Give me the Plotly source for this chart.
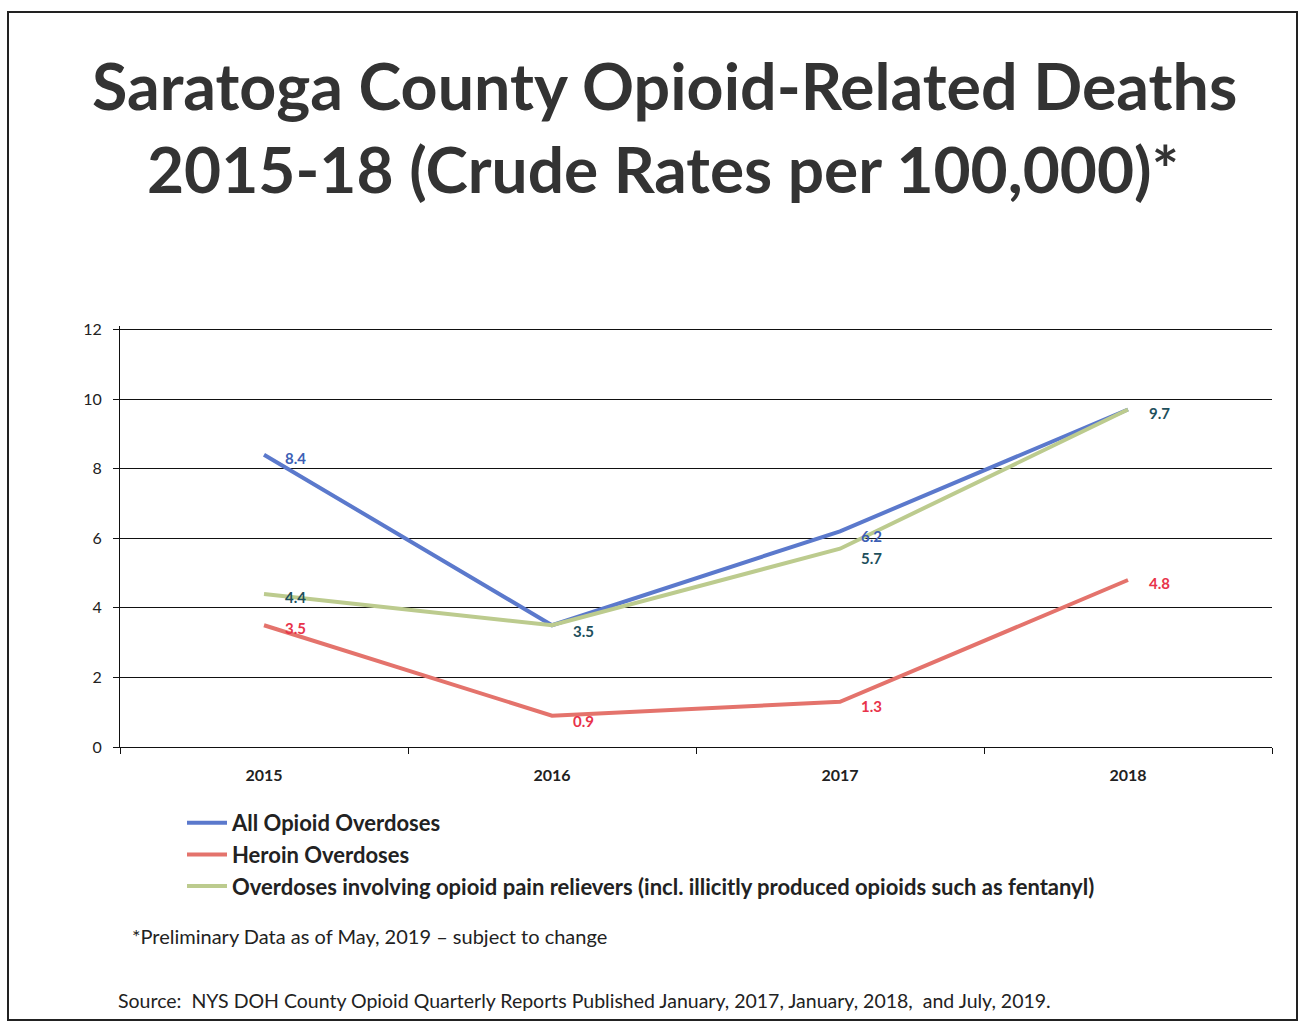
import plotly.graph_objects as go

years = ["2015", "2016", "2017", "2018"]
all_opioid = [8.4, 3.5, 6.2, 9.7]
heroin = [3.5, 0.9, 1.3, 4.8]
pain_relievers = [4.4, 3.5, 5.7, 9.7]

all_labels = ["8.4", "", "6.2", ""]
heroin_labels = ["3.5", "0.9", "1.3", "4.8"]
pain_labels = ["4.4", "3.5", "5.7", "9.7"]

y_ticks = [0, 2, 4, 6, 8, 10, 12]

names = ["All Opioid Overdoses", "Heroin Overdoses",
         "Overdoses involving opioid pain relievers (incl. illicitly produced opioids such as fentanyl)"]

FONT = "Lato"
W, H = 1300, 1023
L, R, T, B = 120, 28, 326, 276
PW, PH = W - L - R, H - T - B

def px(x):
    return (x - L) / PW

def py(y):
    return (H - B - y) / PH

series = [
    (all_opioid, all_labels, names[0], "#5b79cc", "#3d5fb5", [-3, 0, -5, 0]),
    (heroin, heroin_labels, names[1], "#e4736c", "#e8334a", [-3, -5, -4, -3]),
    (pain_relievers, pain_labels, names[2], "#bccb8e", "#1e4f5c", [-3, -6, -9, -3]),
]

fig = go.Figure()
annotations = []
for vals, labels, name, lc, tc, dy in series:
    fig.add_trace(go.Scatter(x=years, y=vals, name=name, mode="lines",
                             line=dict(color=lc, width=4)))
    for i, (v, lab) in enumerate(zip(vals, labels)):
        if lab:
            annotations.append(dict(
                x=i, y=v, xref="x", yref="y", text=lab, showarrow=False,
                xanchor="center", yanchor="middle", xshift=31, yshift=dy[i],
                font=dict(family=FONT, size=15, color=tc, weight="bold")))

annotations += [
    dict(text="<b>Saratoga County Opioid-Related Deaths</b>", xref="paper", yref="paper",
         x=px(664), y=py(85), showarrow=False, xanchor="center", yanchor="middle",
         font=dict(family=FONT, size=64.5, color="#333")),
    dict(text="<b>2015-18 (Crude Rates per 100,000)*</b>", xref="paper", yref="paper",
         x=px(663), y=py(168), showarrow=False, xanchor="center", yanchor="middle",
         font=dict(family=FONT, size=64, color="#333")),
    dict(text="*Preliminary Data as of May, 2019 \u2013 subject to change", xref="paper", yref="paper",
         x=px(130), y=py(936), showarrow=False, xanchor="left", yanchor="middle",
         font=dict(family=FONT, size=20, color="#222")),
    dict(text="Source:  NYS DOH County Opioid Quarterly Reports Published January, 2017, January, 2018,  and July, 2019.",
         xref="paper", yref="paper",
         x=px(116), y=py(1000), showarrow=False, xanchor="left", yanchor="middle",
         font=dict(family=FONT, size=19.5, color="#222")),
]

fig.update_layout(
    width=W, height=H,
    margin=dict(l=L, r=R, t=T, b=B),
    paper_bgcolor="white", plot_bgcolor="white",
    font=dict(family=FONT, color="#222"),
    showlegend=True,
    legend=dict(x=px(182), y=py(802), xanchor="left", yanchor="top",
                font=dict(family=FONT, size=22, color="#222", weight="bold"),
                itemwidth=40, tracegroupgap=0, bgcolor="rgba(0,0,0,0)"),
    xaxis=dict(type="category", range=[-0.5, 3.5], showgrid=False,
               showline=True, linecolor="#111", linewidth=1,
               ticks="outside", tickson="boundaries", ticklen=6, tickcolor="#111",
               ticklabelstandoff=14,
               tickfont=dict(family=FONT, size=16, color="#222", weight="bold"),
               fixedrange=True),
    yaxis=dict(range=[0, 12.1], tickvals=y_ticks, showgrid=True,
               gridcolor="#111", gridwidth=1,
               showline=True, linecolor="#111", linewidth=1, zeroline=False,
               ticks="outside", ticklen=6, tickcolor="#111", ticklabelstandoff=8,
               tickfont=dict(family=FONT, size=16, color="#222"), fixedrange=True),
    shapes=[dict(type="rect", xref="paper", yref="paper",
                 x0=px(8), x1=px(1297), y0=py(1020), y1=py(12),
                 line=dict(color="#222", width=2))],
    annotations=annotations,
)

fig.write_html("out.html")
